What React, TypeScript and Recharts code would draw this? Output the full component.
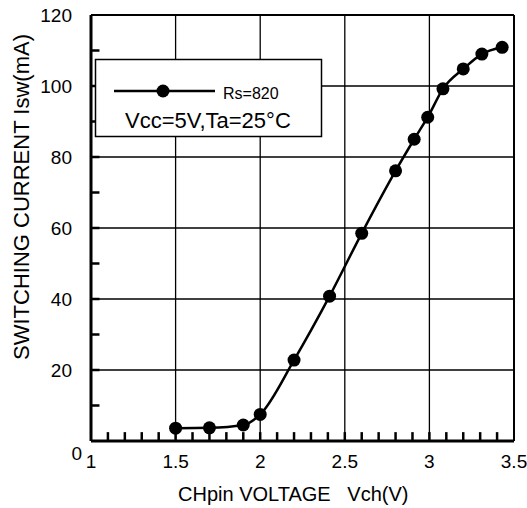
import {
  LineChart, Line, XAxis, YAxis, ReferenceLine,
} from "recharts";

const voltage = [1.5, 1.7, 1.9, 2.0, 2.2, 2.41, 2.6, 2.8, 2.91, 2.99, 3.08, 3.2, 3.31, 3.43];
const current = [3.6, 3.7, 4.5, 7.5, 22.8, 40.8, 58.5, 76.1, 85, 91.2, 99.2, 104.8, 109, 110.9];

const xLabels = [1, 1.5, 2, 2.5, 3, 3.5];
const yLabels = [0, 20, 40, 60, 80, 100, 120];
// minor tick marks, drawn inward from the bottom and left axes
const xMinor = [1.1, 1.2, 1.3, 1.4, 1.5, 1.6, 1.7, 1.8, 1.9, 2, 2.1, 2.2, 2.3, 2.4, 2.5, 2.6, 2.7, 2.8, 2.9, 3, 3.1, 3.2, 3.3, 3.4];
const yMinor = [10, 20, 30, 40, 50, 60, 70, 80, 90, 100, 110];
const xGrid = [1.5, 2, 2.5, 3];
const yGrid = [20, 40, 60, 80, 100];

const data = voltage.map((v, i) => ({ v, isw: current[i] }));

const FONT = "Liberation Sans, Arial, sans-serif";
const X_TICK_LEN = 2.5; // mA, about 9px
const Y_TICK_LEN = 0.05; // V, about 8px

function renderXTick(props: any) {
  const { x, y, payload } = props;
  return (
    <text x={x} y={y + 27} textAnchor="middle" fontSize={19} fontFamily={FONT} fill="#000">
      {String(payload.value)}
    </text>
  );
}

function renderYTick(props: any) {
  const { x, y, payload } = props;
  const zero = payload.value === 0;
  return (
    <text
      x={zero ? x - 9 : x - 19}
      y={zero ? y + 19 : y + 7}
      textAnchor="end"
      fontSize={19}
      fontFamily={FONT}
      fill="#000"
    >
      {payload.value}
    </text>
  );
}

export default function App() {
  return (
    <div style={{ position: "absolute", left: 0, top: 0, width: 527, height: 508, background: "#fff" }}>
      <LineChart width={527} height={508} data={data} margin={{ top: 15, right: 13, left: 0, bottom: 0 }}>
        {xGrid.map((g) => (
          <ReferenceLine key={"x" + g} x={g} stroke="#000" strokeWidth={1.3} />
        ))}
        {yGrid.map((g) => (
          <ReferenceLine key={"y" + g} y={g} stroke="#000" strokeWidth={1.3} />
        ))}
        {xMinor.map((t) => (
          <ReferenceLine
            key={"xm" + t}
            segment={[{ x: t, y: 0 }, { x: t, y: X_TICK_LEN }]}
            stroke="#000"
            strokeWidth={2.5}
            ifOverflow="visible"
          />
        ))}
        {yMinor.map((t) => (
          <ReferenceLine
            key={"ym" + t}
            segment={[{ x: 1, y: t }, { x: 1 + Y_TICK_LEN, y: t }]}
            stroke="#000"
            strokeWidth={2.5}
            ifOverflow="visible"
          />
        ))}
        <ReferenceLine y={120} stroke="#000" strokeWidth={2} />
        <ReferenceLine x={3.5} stroke="#000" strokeWidth={2} />
        <XAxis
          dataKey="v"
          type="number"
          domain={[1, 3.5]}
          ticks={xLabels}
          interval={0}
          height={67}
          tickSize={0}
          tickMargin={0}
          tickLine={false}
          axisLine={{ stroke: "#000", strokeWidth: 3 }}
          tick={renderXTick}
        />
        <YAxis
          type="number"
          domain={[0, 120]}
          ticks={yLabels}
          interval={0}
          width={91}
          tickSize={0}
          tickMargin={0}
          tickLine={false}
          axisLine={{ stroke: "#000", strokeWidth: 3 }}
          tick={renderYTick}
        />
        <Line
          dataKey="isw"
          type="monotone"
          stroke="#000"
          strokeWidth={2.5}
          dot={{ r: 6.5, fill: "#000", stroke: "#000", strokeWidth: 0 }}
          isAnimationActive={false}
        />
      </LineChart>
      <svg
        width={527}
        height={508}
        style={{ position: "absolute", left: 0, top: 0, pointerEvents: "none" }}
      >
        <text
          x={29}
          y={197}
          transform="rotate(-90 29 197)"
          textAnchor="middle"
          fontSize={22}
          fontFamily={FONT}
          fill="#000"
        >
          SWITCHING CURRENT Isw(mA)
        </text>
        <text x={178} y={501} fontSize={20} fontFamily={FONT} fill="#000" style={{ whiteSpace: "pre" }}>
          {"CHpin VOLTAGE   Vch(V)"}
        </text>
        <rect x={95.5} y={59.5} width={226} height={77} fill="#fff" stroke="#000" strokeWidth={1.5} />
        <line x1={114} x2={215} y1={91} y2={91} stroke="#000" strokeWidth={2.5} />
        <circle cx={163} cy={91} r={6.5} fill="#000" />
        <text x={223} y={99} fontSize={16} fontFamily={FONT} fill="#000">
          Rs=820
        </text>
        <text x={125} y={128} fontSize={22} fontFamily={FONT} fill="#000">
          Vcc=5V,Ta=25°C
        </text>
      </svg>
    </div>
  );
}
